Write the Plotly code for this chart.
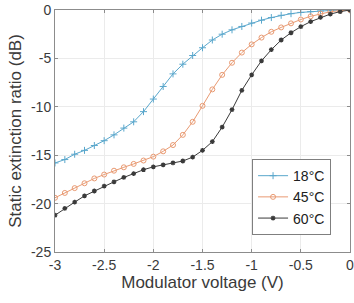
import plotly.graph_objects as go

voltage = [-3.0, -2.9, -2.8, -2.7, -2.6, -2.5, -2.4, -2.3, -2.2, -2.1, -2.0,
           -1.9, -1.8, -1.7, -1.6, -1.5, -1.4, -1.3, -1.2, -1.1, -1.0,
           -0.9, -0.8, -0.7, -0.6, -0.5, -0.4, -0.3, -0.2, -0.1, 0.0]

er_18 = [-15.8, -15.45, -14.9, -14.5, -14.0, -13.5, -12.9, -12.2, -11.55, -10.5, -9.2,
         -7.9, -6.6, -5.6, -4.7, -3.9, -3.1, -2.5, -2.05, -1.7, -1.35,
         -1.05, -0.78, -0.55, -0.38, -0.25, -0.17, -0.1, -0.05, -0.02, 0.0]

er_45 = [-19.4, -18.9, -18.4, -17.9, -17.4, -17.0, -16.6, -16.25, -15.9, -15.55, -15.15,
         -14.6, -13.95, -12.9, -11.55, -9.9, -8.2, -6.7, -5.45, -4.4, -3.55,
         -2.85, -2.25, -1.8, -1.38, -0.98, -0.65, -0.38, -0.18, -0.06, 0.0]

er_60 = [-21.2, -20.5, -19.85, -19.2, -18.7, -18.2, -17.75, -17.3, -16.9, -16.5, -16.2,
         -16.0, -15.8, -15.6, -15.2, -14.5, -13.6, -12.1, -10.3, -8.3, -6.7,
         -5.25, -4.1, -3.1, -2.35, -1.72, -1.2, -0.77, -0.42, -0.17, 0.0]

labels = ["18°C", "45°C", "60°C"]
x_ticks = [-3, -2.5, -2, -1.5, -1, -0.5, 0]
x_tick_text = ["-3", "-2.5", "-2", "-1.5", "-1", "-0.5", "0"]
y_ticks = [-25, -20, -15, -10, -5, 0]
y_tick_text = ["-25", "-20", "-15", "-10", "-5", "0"]

FONT = "Liberation Sans, Arial, sans-serif"
TXT = "#3a3a3a"

fig = go.Figure()
fig.add_trace(go.Scatter(x=voltage, y=er_18, name=labels[0], mode="lines+markers",
                         line=dict(color="#5aa7cc", width=1),
                         marker=dict(symbol="cross-thin-open", size=5,
                                     line=dict(color="#5aa7cc", width=1))))
fig.add_trace(go.Scatter(x=voltage, y=er_45, name=labels[1], mode="lines+markers",
                         line=dict(color="#e99a72", width=1),
                         marker=dict(symbol="circle-open", size=5,
                                     line=dict(color="#e99a72", width=1))))
fig.add_trace(go.Scatter(x=voltage, y=er_60, name=labels[2], mode="lines+markers",
                         line=dict(color="#3a3a3a", width=1),
                         marker=dict(symbol="asterisk-open", size=4,
                                     line=dict(color="#222222", width=1.3))))

axis_common = dict(showline=True, mirror="ticks", linecolor="#8c8c8c", linewidth=1,
                   ticks="inside", ticklen=3, tickcolor="#8c8c8c",
                   showgrid=True, gridcolor="#ebebeb", gridwidth=1, zeroline=False,
                   automargin=False, ticklabeloverflow="allow",
                   tickfont=dict(family=FONT, size=14, color=TXT))

fig.update_layout(
    width=354, height=303,
    margin=dict(l=55, r=4, t=10, b=51),
    paper_bgcolor="white", plot_bgcolor="white",
    font=dict(family=FONT, color=TXT),
    xaxis=dict(range=[-3, 0], tickvals=x_ticks, ticktext=x_tick_text,
               title=dict(text="Modulator voltage (V)", font=dict(size=17, color=TXT), standoff=3),
               **axis_common),
    yaxis=dict(range=[-25, 0], tickvals=y_ticks, ticktext=y_tick_text,
               title=dict(text="Static extinction ratio (dB)", font=dict(size=17, color=TXT), standoff=5),
               **axis_common),
    legend=dict(x=0.668, y=0.384, xanchor="left", yanchor="top",
                bgcolor="white", bordercolor="#7f7f7f", borderwidth=1,
                font=dict(family=FONT, size=14, color="#202020"),
                itemwidth=30, tracegroupgap=0),
    showlegend=True,
)

fig.write_html("out.html",
               config={"displayModeBar": False},
               post_script="document.body.style.margin='0';document.body.style.padding='0';")
